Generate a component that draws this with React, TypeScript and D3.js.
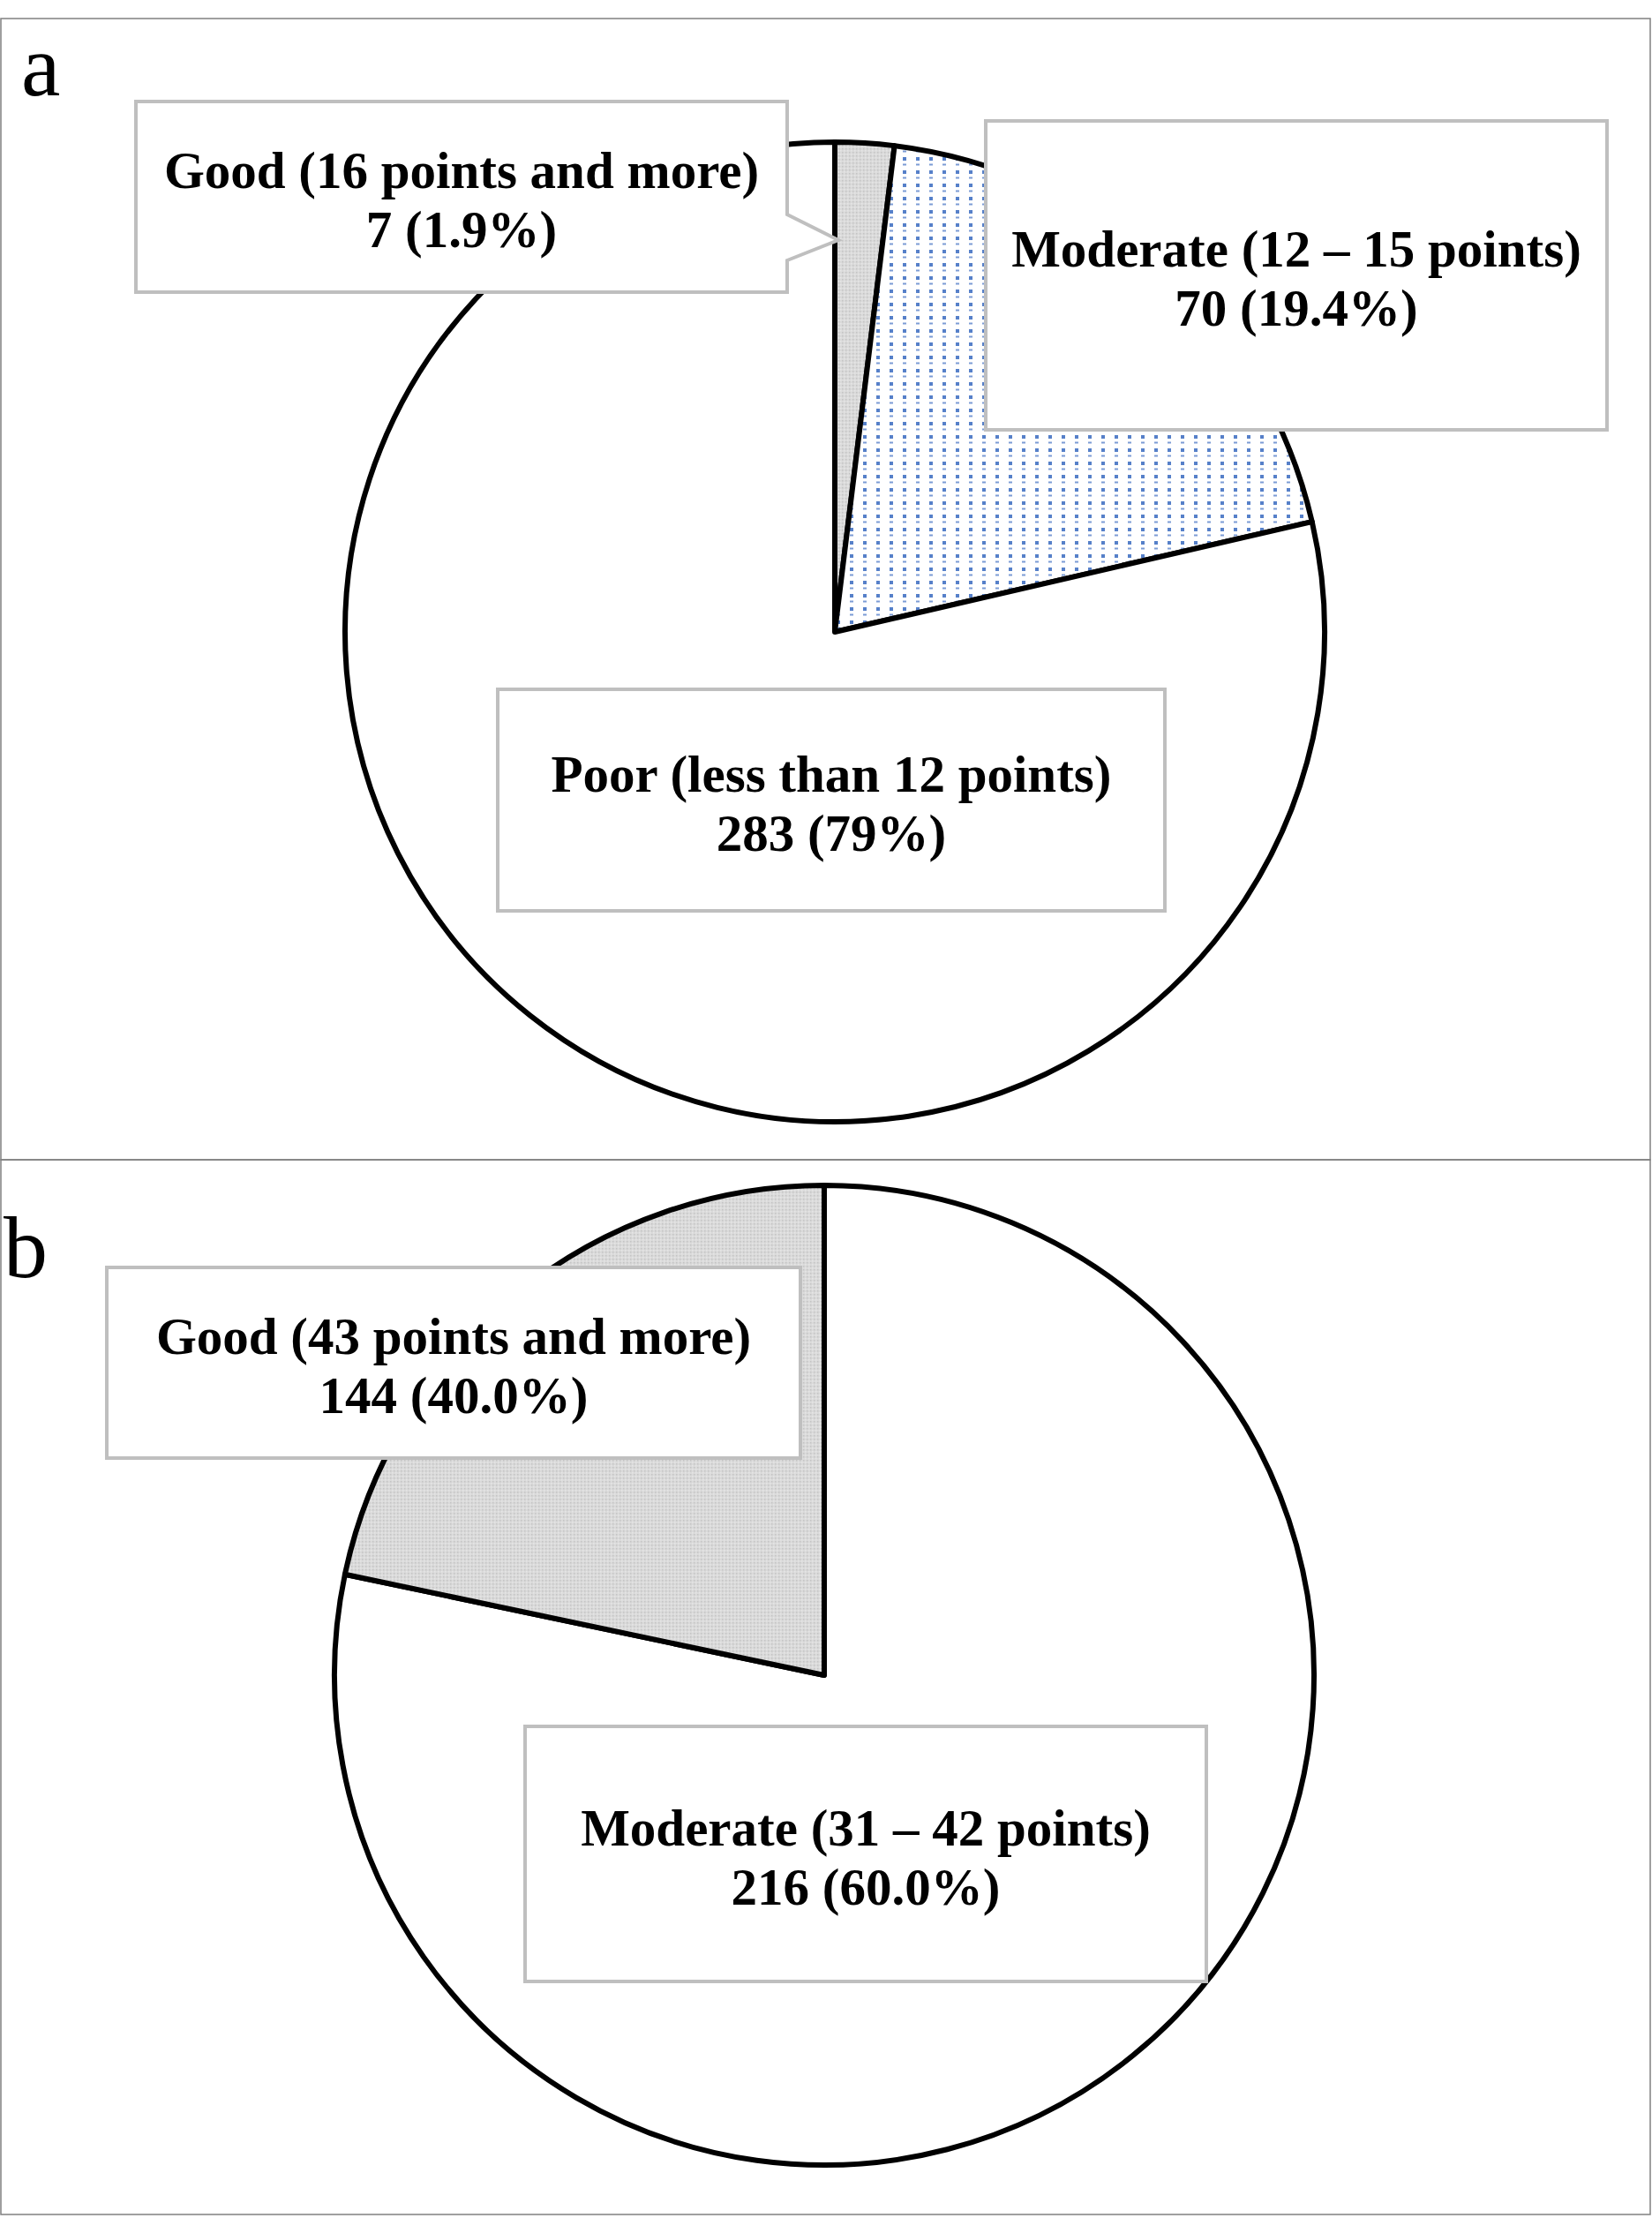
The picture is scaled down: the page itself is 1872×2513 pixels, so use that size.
import React from "react";
import * as d3 from "d3";

// ---------- data ----------
const panelACategories = ["Good (16 points and more)", "Moderate (12 – 15 points)", "Poor (less than 12 points)"];
const panelACounts = [7, 70, 283];
const panelAPercents = ["1.9%", "19.4%", "79%"];

const panelBCategories = ["Moderate (31 – 42 points)", "Good (43 points and more)"];
const panelBCounts = [216, 144];
const panelBPercents = ["60.0%", "40.0%"];
// slice sizes as actually drawn in the picture (%)
const panelBDrawnShares = [78.3, 21.7];

const panelLetters = ["a", "b"];

// ---------- layout ----------
const W = 1872;
const H = 2513;
const R = 555;
const FONT = "'Liberation Serif', 'Times New Roman', Times, serif";
const LABEL_SIZE = 59;
const LINE_GAP = 67;

type Box = { x0: number; y0: number; x1: number; y1: number; pointer?: { yTop: number; yBot: number; tipX: number; tipY: number } };

const boxesA: Box[] = [
  { x0: 154, y0: 115, x1: 892, y1: 331, pointer: { yTop: 243, yBot: 295, tipX: 950, tipY: 272 } },
  { x0: 1117, y0: 137, x1: 1821, y1: 487 },
  { x0: 564, y0: 781, x1: 1320, y1: 1032 },
];
const boxesB: Box[] = [
  { x0: 595, y0: 1956, x1: 1367, y1: 2245 },
  { x0: 121, y0: 1436, x1: 907, y1: 1652 },
];

const fillsA = ["url(#grayDots)", "url(#blueDots)", "#ffffff"];
const fillsB = ["#ffffff", "url(#grayDots)"];

function boxPath(b: Box) {
  const p = d3.path();
  p.moveTo(b.x0, b.y0);
  p.lineTo(b.x1, b.y0);
  if (b.pointer) {
    p.lineTo(b.x1, b.pointer.yTop);
    p.lineTo(b.pointer.tipX, b.pointer.tipY);
    p.lineTo(b.x1, b.pointer.yBot);
  }
  p.lineTo(b.x1, b.y1);
  p.lineTo(b.x0, b.y1);
  p.closePath();
  return p.toString();
}

function Label({ box, line1, line2 }: { box: Box; line1: string; line2: string }) {
  const cx = (box.x0 + box.x1) / 2;
  const cy = (box.y0 + box.y1) / 2;
  return (
    <g>
      <path d={boxPath(box)} fill="#ffffff" stroke="#bfbfbf" strokeWidth={4} />
      <text
        x={cx}
        y={cy - 10}
        textAnchor="middle"
        fontFamily={FONT}
        fontWeight="bold"
        fontSize={LABEL_SIZE}
        fill="#000"
      >
        {line1}
      </text>
      <text
        x={cx}
        y={cy - 10 + LINE_GAP}
        textAnchor="middle"
        fontFamily={FONT}
        fontWeight="bold"
        fontSize={LABEL_SIZE}
        fill="#000"
      >
        {line2}
      </text>
    </g>
  );
}

function Pie({ cx, cy, values, fills }: { cx: number; cy: number; values: number[]; fills: string[] }) {
  const pie = d3.pie<number>().sort(null).value((d) => d);
  const arc = d3.arc<d3.PieArcDatum<number>>().innerRadius(0).outerRadius(R);
  const arcs = pie(values);
  return (
    <g transform={`translate(${cx},${cy})`}>
      {arcs.map((a, i) => (
        <path
          key={i}
          d={arc(a) || ""}
          fill={fills[i]}
          stroke="#000"
          strokeWidth={6}
          strokeLinejoin="round"
        />
      ))}
    </g>
  );
}

export default function App() {
  return (
    <svg
      width={W}
      height={H}
      viewBox={`0 0 ${W} ${H}`}
      style={{ position: "absolute", left: 0, top: 0, background: "#fff" }}
    >
      <defs>
        <pattern id="blueDots" width={15} height={15} patternUnits="userSpaceOnUse">
          <rect width={15} height={15} fill="#ffffff" />
          <rect x={2} y={2} width={4} height={4} fill="#4472c4" opacity={0.9} />
          <rect x={2} y={9.5} width={4} height={2} fill="#4472c4" opacity={0.7} />
        </pattern>
        <pattern id="grayDots" width={4} height={4} patternUnits="userSpaceOnUse">
          <rect width={4} height={4} fill="#dadada" />
          <rect x={0} y={0} width={1.5} height={1.5} fill="#c4c4c4" />
          <rect x={2} y={2} width={1.5} height={1.5} fill="#e6e6e6" />
        </pattern>
      </defs>
      <rect x={0} y={0} width={W} height={H} fill="#ffffff" />

      {/* frames */}
      <rect x={1} y={21} width={1869} height={1293} fill="none" stroke="#808080" strokeWidth={1.5} />
      <rect x={1} y={1314} width={1869} height={1195} fill="none" stroke="#808080" strokeWidth={1.5} />

      {/* panel letters */}
      <text x={24} y={108} fontFamily={FONT} fontSize={100} fill="#000">
        {panelLetters[0]}
      </text>
      <text x={4} y={1447} fontFamily={FONT} fontSize={100} fill="#000">
        {panelLetters[1]}
      </text>

      {/* pies */}
      <Pie cx={946} cy={716} values={panelACounts} fills={fillsA} />
      <Pie cx={934} cy={1898} values={panelBDrawnShares} fills={fillsB} />

      {/* labels */}
      {panelACategories.map((c, i) => (
        <Label key={"a" + i} box={boxesA[i]} line1={c} line2={`${panelACounts[i]} (${panelAPercents[i]})`} />
      ))}
      {panelBCategories.map((c, i) => (
        <Label key={"b" + i} box={boxesB[i]} line1={c} line2={`${panelBCounts[i]} (${panelBPercents[i]})`} />
      ))}
    </svg>
  );
}
